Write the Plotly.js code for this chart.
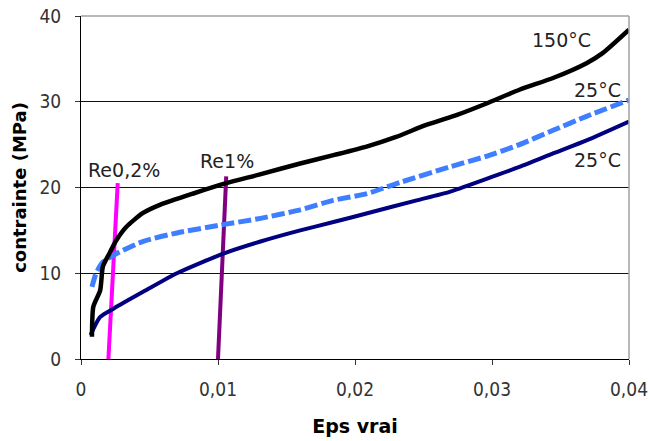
<!DOCTYPE html>
<html><head><meta charset="utf-8">
<script src="https://cdn.plot.ly/plotly-3.0.1.min.js"></script>
<style>html,body{margin:0;padding:0;background:#fff}#chart{width:649px;height:441px}</style>
</head><body><div id="chart"></div>
<script>
// 150°C curve (black)
const eps150 = [0.0008,0.0009,0.0014,0.0016,0.0021,0.0026,0.0033,0.0045,0.0058,0.0082,0.0106,0.0130,0.0160,0.0185,0.0209,0.0230,0.0252,0.0275,0.0296,0.0320,0.0345,0.0369,0.0381,0.0400];
const sig150 = [2.6,6.1,8.0,10.8,12.4,13.9,15.4,17.0,18.0,19.3,20.5,21.5,22.8,23.8,24.8,25.9,27.3,28.5,29.8,31.4,32.8,34.5,35.7,38.4];
// 25°C curve (light blue, dashed)
const eps25a = [0.0008,0.0011,0.0016,0.0026,0.0045,0.0070,0.0101,0.0131,0.0160,0.0184,0.0209,0.0233,0.0269,0.0295,0.0320,0.0345,0.0369,0.0400];
const sig25a = [8.4,10.0,11.3,12.3,13.7,14.7,15.6,16.4,17.4,18.5,19.3,20.6,22.4,23.6,25.0,26.7,28.3,30.2];
// 25°C curve (navy)
const eps25b = [0.0007,0.0014,0.0024,0.0045,0.0070,0.0104,0.0131,0.0160,0.0185,0.0209,0.0245,0.0269,0.0294,0.0320,0.0345,0.0369,0.0400];
const sig25b = [2.8,4.9,5.9,7.8,10.0,12.3,13.7,15.0,16.0,17.0,18.5,19.5,20.9,22.4,24.0,25.5,27.7];
// offset lines
const epsRe02 = [0.0020,0.00268];
const sigRe02 = [0,20.5];
const epsRe1 = [0.0100,0.0106];
const sigRe1 = [0,21.3];
const xTicks = [0,0.01,0.02,0.03,0.04];
const xTickText = ['0','0,01','0,02','0,03','0,04'];
const yTicks = [0,10,20,30,40];
const curveLabels = ['150°C','25°C','25°C'];
const curveLabelPos = [[0.0351,37.2],[0.0377,31.4],[0.0377,23.2]];
const reLabels = ['Re0,2%','Re1%'];
const reLabelPos = [[0.00314,22.0],[0.01066,23.1]];

const cfont = '"DejaVu Sans Condensed", "DejaVu Sans", sans-serif';
const dfont = '"DejaVu Sans", sans-serif';
const traces = [
  {x:epsRe02,y:sigRe02,mode:'lines',line:{color:'#FF00FF',width:4},hoverinfo:'skip'},
  {x:epsRe1,y:sigRe1,mode:'lines',line:{color:'#800080',width:4},hoverinfo:'skip'},
  {x:eps25b,y:sig25b,mode:'lines',line:{color:'#000080',width:4,shape:'spline',smoothing:0.6}},
  {x:eps25a,y:sig25a,mode:'lines',line:{color:'#3F7FFF',width:5,dash:'13px,4px',shape:'spline',smoothing:0.6}},
  {x:eps150,y:sig150,mode:'lines',line:{color:'#000000',width:4.5,shape:'spline',smoothing:0.6}}
];
const annotations = [];
curveLabels.forEach((t,i)=>annotations.push({x:curveLabelPos[i][0],y:curveLabelPos[i][1],text:t,showarrow:false,xanchor:'center',yanchor:'middle',font:{family:dfont,size:19,color:'#222'}}));
reLabels.forEach((t,i)=>annotations.push({x:reLabelPos[i][0],y:reLabelPos[i][1],text:t,showarrow:false,xanchor:'center',yanchor:'middle',font:{family:dfont,size:19,color:'#222'}}));
const layout = {
  width:649,height:441,
  margin:{l:81,r:20,t:16,b:82},
  paper_bgcolor:'#fff',plot_bgcolor:'#fff',
  showlegend:false,
  font:{family:dfont,size:19,color:'#000'},
  xaxis:{range:[0,0.04],tickvals:xTicks,ticktext:xTickText,showgrid:false,zeroline:false,
    showline:true,linecolor:'#000',linewidth:1,ticks:'outside',ticklen:5,tickcolor:'#333',
    tickfont:{family:cfont,size:19,color:'#333'},ticklabelstandoff:8,ticklabeloverflow:'allow',
    title:{text:'<b>Eps vrai</b>',font:{family:dfont,size:19},standoff:20}},
  yaxis:{range:[0,40],tickvals:yTicks,showgrid:true,gridcolor:'#111',gridwidth:1,zeroline:false,
    showline:true,linecolor:'#000',linewidth:1,ticks:'outside',ticklen:5,tickcolor:'#333',
    tickfont:{family:cfont,size:19,color:'#333'},ticklabelstandoff:10,
    title:{text:'<b>contrainte (MPa)</b>',font:{family:dfont,size:18},standoff:8}},
  shapes:[
    {type:'line',xref:'paper',yref:'paper',x0:0,x1:1,y0:1,y1:1,line:{color:'#A0A0A0',width:1.5},layer:'above'},
    {type:'line',xref:'paper',yref:'paper',x0:1,x1:1,y0:0,y1:1,line:{color:'#A0A0A0',width:1.5},layer:'above'}
  ],
  annotations:annotations
};
Plotly.newPlot('chart',traces,layout,{displayModeBar:false,staticPlot:true});
</script></body></html>
